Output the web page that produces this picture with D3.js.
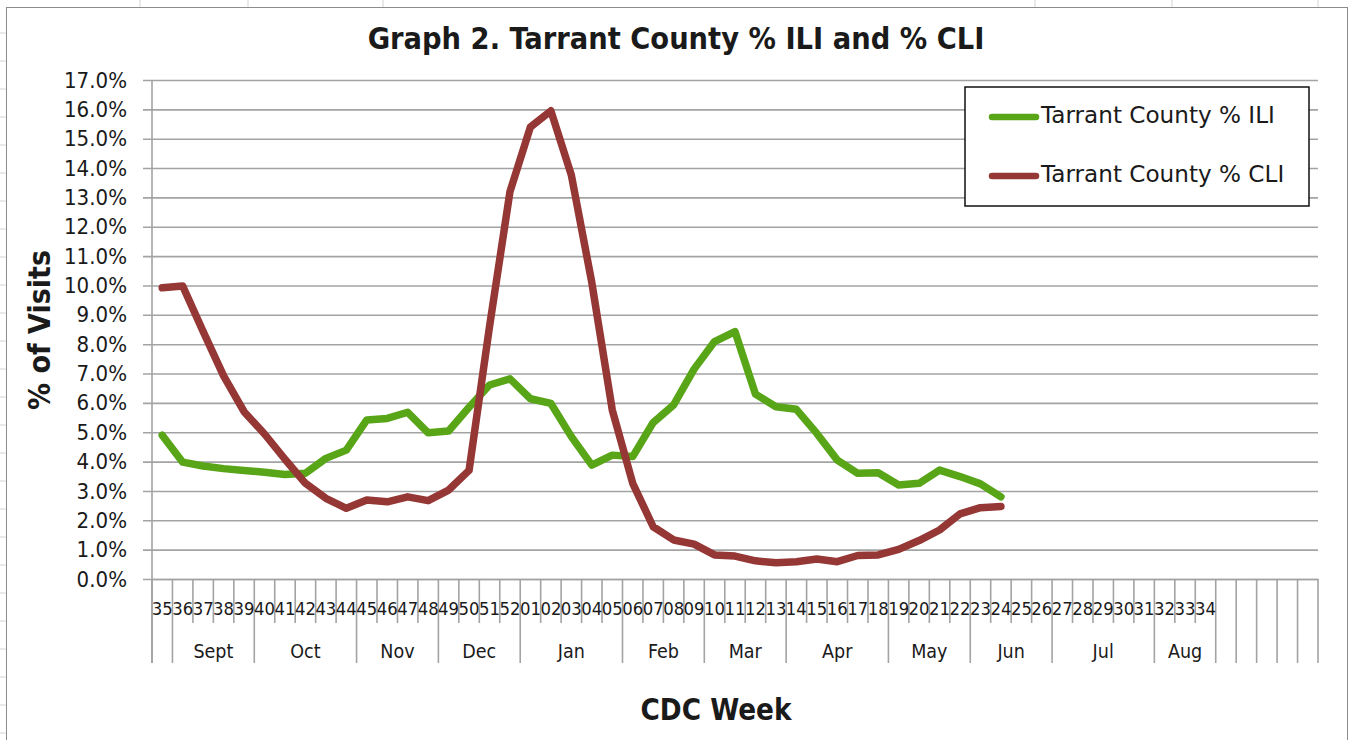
<!DOCTYPE html>
<html>
<head>
<meta charset="utf-8">
<script src="https://cdn.jsdelivr.net/npm/d3@7"></script>
<style>
  html, body { margin: 0; padding: 0; background: #fff; }
  svg { display: block; }
</style>
</head>
<body>
<div id="chart"></div>
<script>
// CDC week labels (52 weeks + 5 empty slots on the category axis)
const weeks = [
  '35','36','37','38','39','40','41','42','43','44','45','46','47','48','49','50','51','52',
  '01','02','03','04','05','06','07','08','09','10','11','12','13','14','15','16','17',
  '18','19','20','21','22','23','24','25','26','27','28','29','30','31','32','33','34',
  '','','','',''
];
// outer level of the axis: month names and how many weeks each spans
const monthNames = ['', 'Sept', 'Oct', 'Nov', 'Dec', 'Jan', 'Feb', 'Mar', 'Apr', 'May', 'Jun', 'Jul', 'Aug', '', '', '', '', ''];
const monthSpans = [1, 4, 5, 4, 4, 5, 4, 4, 5, 4, 4, 5, 3, 1, 1, 1, 1, 1];

const yTicks = [0, 0.01, 0.02, 0.03, 0.04, 0.05, 0.06, 0.07, 0.08, 0.09, 0.10,
  0.11, 0.12, 0.13, 0.14, 0.15, 0.16, 0.17];

// % of visits, weeks 35 .. 24
const ili = [4.90, 3.98, 3.85, 3.76, 3.70, 3.64, 3.56, 3.60, 4.11, 4.39, 5.42, 5.47, 5.68, 4.98, 5.04,
  5.85, 6.61, 6.82, 6.14, 5.98, 4.85, 3.88, 4.22, 4.17, 5.33, 5.93, 7.15, 8.09, 8.43, 6.30, 5.87,
  5.78, 4.96, 4.05, 3.60, 3.62, 3.20, 3.26, 3.71, 3.49, 3.24, 2.80];
const cli = [9.92, 9.98, 8.43, 6.92, 5.70, 4.94, 4.08, 3.26, 2.75, 2.41, 2.69, 2.63, 2.80, 2.67, 3.03,
  3.70, 8.60, 13.20, 15.40, 15.95, 13.76, 10.10, 5.76, 3.26, 1.78, 1.33, 1.19, 0.82, 0.78, 0.62,
  0.55, 0.59, 0.68, 0.59, 0.80, 0.82, 1.01, 1.31, 1.67, 2.22, 2.43, 2.47];

const seriesNames = ['Tarrant County % ILI', 'Tarrant County % CLI'];
const seriesColors = ['#58a518', '#953735'];

const W = 1350, H = 740;
const plot = { left: 152, right: 1318, top: 80, bottom: 579 };
const FONT = "'DejaVu Sans Condensed', 'DejaVu Sans', Tahoma, sans-serif";
const WIDE_FONT = "'DejaVu Sans', Verdana, sans-serif";
const INK = '#1a1a1a';
const GRID = '#a3a3a3';

// scale a text's font-size so it spans the given width
function fit(sel, width) {
  const fs = parseFloat(sel.attr('font-size'));
  const len = sel.node().getComputedTextLength();
  if (len > 0) sel.attr('font-size', (fs * width / len).toFixed(2));
  return sel;
}

const svg = d3.select('#chart').append('svg')
  .attr('width', W).attr('height', H)
  .attr('font-family', FONT);

// faint worksheet cell lines behind the chart
const sheet = svg.append('g').attr('stroke', '#d4d4d4').attr('stroke-width', 1);
[140, 248, 383, 1035, 1172, 1318].forEach((x) => {
  sheet.append('line').attr('x1', x).attr('x2', x).attr('y1', 0).attr('y2', 7);
});
d3.range(33, H, 28).forEach((y) => {
  sheet.append('line').attr('x1', 0).attr('x2', 6).attr('y1', y).attr('y2', y);
});

// chart area border
svg.append('rect')
  .attr('x', 6.5).attr('y', 7.5)
  .attr('width', 1341).attr('height', H)
  .attr('fill', '#fff')
  .attr('stroke', '#8c8c8c').attr('stroke-width', 1);

const x = d3.scaleBand()
  .domain(d3.range(weeks.length))
  .range([plot.left, plot.right])
  .paddingInner(0).paddingOuter(0);

const y = d3.scaleLinear()
  .domain([0, 0.17])
  .range([plot.bottom, plot.top]);

// y axis with gridlines
const yAxis = svg.append('g')
  .attr('transform', `translate(${plot.left - 9},0)`)
  .call(d3.axisLeft(y)
    .tickValues(yTicks)
    .tickFormat(d3.format('.1%'))
    .tickSize(-(plot.right - plot.left + 9))
    .tickPadding(16));
yAxis.select('.domain').remove();
yAxis.selectAll('.tick line').attr('stroke', GRID).attr('stroke-width', 1.6);
yAxis.selectAll('.tick text')
  .attr('fill', INK)
  .attr('font-family', FONT)
  .attr('font-size', 17);
{
  const probe = yAxis.selectAll('.tick text').filter((d) => d === 0.1);
  fit(probe, 63);
  yAxis.selectAll('.tick text').attr('font-size', probe.attr('font-size'));
}

// category axis: boundary lines, week labels, month labels
const step = x.step();
const monthStarts = d3.cumsum([0, ...monthSpans]);
const boundaries = d3.range(weeks.length + 1);
svg.append('g')
  .attr('stroke', GRID).attr('stroke-width', 1.6)
  .selectAll('line')
  .data(boundaries)
  .join('line')
  .attr('x1', (i) => plot.left + i * step)
  .attr('x2', (i) => plot.left + i * step)
  .attr('y1', plot.bottom)
  .attr('y2', (i) => (monthStarts.includes(i) ? 663 : 623));

svg.append('line')
  .attr('x1', plot.left).attr('x2', plot.left)
  .attr('y1', plot.top).attr('y2', 663)
  .attr('stroke', GRID).attr('stroke-width', 1.6);

const xAxis = svg.append('g')
  .attr('transform', `translate(0,${plot.bottom})`)
  .call(d3.axisBottom(x).tickSize(0).tickPadding(0).tickFormat((i) => weeks[i]));
xAxis.select('.domain').attr('stroke', GRID).attr('stroke-width', 1.6);
xAxis.selectAll('.tick text')
  .attr('fill', INK)
  .attr('font-family', FONT)
  .attr('font-size', 16)
  .attr('dy', null)
  .attr('y', 36);
{
  const probe = xAxis.selectAll('.tick text').filter((i) => i === 0);
  fit(probe, 21);
  xAxis.selectAll('.tick text').attr('font-size', probe.attr('font-size'));
}

const months = monthNames.map((name, k) => ({ name, start: monthStarts[k], n: monthSpans[k] }));
const monthText = svg.append('g')
  .selectAll('text')
  .data(months.filter((m) => m.name))
  .join('text')
  .attr('x', (m) => plot.left + (m.start + m.n / 2) * step)
  .attr('y', 658)
  .attr('text-anchor', 'middle')
  .attr('fill', INK)
  .attr('font-size', 17)
  .text((m) => m.name);
{
  const probe = monthText.filter((m) => m.name === 'Sept');
  fit(probe, 40);
  monthText.attr('font-size', probe.attr('font-size'));
}

// series
const line = d3.line()
  .x((d, i) => x(i) + x.bandwidth() / 2)
  .y((d) => y(d / 100));

[ili, cli].forEach((vals, k) => {
  svg.append('path')
    .datum(vals)
    .attr('d', line)
    .attr('fill', 'none')
    .attr('stroke', seriesColors[k])
    .attr('stroke-width', 7.5)
    .attr('stroke-linejoin', 'round')
    .attr('stroke-linecap', 'round');
});

// titles
fit(svg.append('text')
  .attr('x', 676).attr('y', 49)
  .attr('text-anchor', 'middle')
  .attr('font-weight', 'bold')
  .attr('font-size', 24)
  .attr('fill', INK)
  .text('Graph 2. Tarrant County % ILI and % CLI'), 617);

fit(svg.append('text')
  .attr('transform', 'translate(50,330) rotate(-90)')
  .attr('text-anchor', 'middle')
  .attr('font-weight', 'bold')
  .attr('font-size', 24)
  .attr('fill', INK)
  .text('% of Visits'), 160);

fit(svg.append('text')
  .attr('x', 716).attr('y', 720)
  .attr('text-anchor', 'middle')
  .attr('font-weight', 'bold')
  .attr('font-size', 26)
  .attr('fill', INK)
  .text('CDC Week'), 151);

// legend
const legend = svg.append('g');
legend.append('rect')
  .attr('x', 965).attr('y', 87)
  .attr('width', 344).attr('height', 119)
  .attr('fill', '#fff')
  .attr('stroke', '#111').attr('stroke-width', 1.5);

const legendRows = [117, 176];
seriesNames.forEach((name, k) => {
  legend.append('line')
    .attr('x1', 992).attr('x2', 1036)
    .attr('y1', legendRows[k]).attr('y2', legendRows[k])
    .attr('stroke', seriesColors[k])
    .attr('stroke-width', 6.5)
    .attr('stroke-linecap', 'round');
  const t = legend.append('text')
    .attr('x', 1041).attr('y', legendRows[k] + 6)
    .attr('font-family', WIDE_FONT)
    .attr('font-size', 18)
    .attr('fill', INK)
    .text(name);
  if (k === 0) fit(t, 234);
  else t.attr('font-size', legend.select('text').attr('font-size'));
});
</script>
</body>
</html>
